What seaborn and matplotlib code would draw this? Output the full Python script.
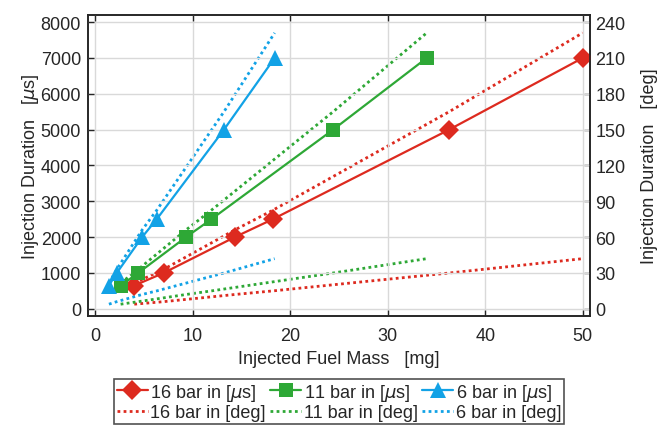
import pandas as pd
import seaborn as sns
import matplotlib.pyplot as plt

# Injected fuel mass [mg] per pressure level
mass_16 = [4.0, 7.0, 14.3, 18.2, 36.3, 50.0]
mass_11 = [2.6, 4.4, 9.3, 11.9, 24.4, 34.0]
mass_6 = [1.4, 2.2, 4.8, 6.3, 13.2, 18.4]

# Injection duration in microseconds
dur_us = [650, 1000, 2000, 2500, 5000, 7000]

# Injection duration in degrees (two dotted lines per pressure)
deg_high = [21.5, 33, 66, 82.5, 165, 231]
deg_low = [3.9, 6, 12, 15, 30, 42]

x_ticks = [0, 10, 20, 30, 40, 50]
y_ticks = [0, 1000, 2000, 3000, 4000, 5000, 6000, 7000, 8000]
y2_ticks = [0, 30, 60, 90, 120, 150, 180, 210, 240]

red = "#dd2a1f"
green = "#2ea836"
blue = "#12a2e6"
frame = "#262626"
fs = 13

sns.set_theme(style="whitegrid")
plt.rcParams["font.family"] = ["Liberation Sans", "DejaVu Sans"]
plt.rcParams["mathtext.fontset"] = "dejavusans"

fig = plt.figure(figsize=(6.7, 4.27), dpi=100)
ax = fig.add_axes([0.1313, 0.2576, 0.7493, 0.705])
ax2 = ax.twinx()

series = [
    (mass_16, red, "D", 10, "16"),
    (mass_11, green, "s", 10, "11"),
    (mass_6, blue, "^", 12, "6"),
]

handles = []
for mass, col, mk, ms, bar in series:
    df = pd.DataFrame({"mass": mass, "us": dur_us, "hi": deg_high, "lo": deg_low})
    sns.lineplot(data=df, x="mass", y="us", ax=ax, color=col, marker=mk,
                 markersize=ms, markeredgewidth=0, lw=1.6,
                 label=bar + r" bar in [$\mu$s]", legend=False)
    sns.lineplot(data=df, x="mass", y="hi", ax=ax2, color=col, lw=2,
                 linestyle=(0, (1, 1.2)), label=bar + " bar in [deg]", legend=False)
    sns.lineplot(data=df, x="mass", y="lo", ax=ax2, color=col, lw=2,
                 linestyle=(0, (1, 1.2)), legend=False)
    handles.append(ax.lines[-1])
    handles.append(ax2.lines[-2])

ax.set_xlim(-0.75, 50.75)
ax.set_ylim(-200, 8200)
ax2.set_ylim(-6, 246)
ax.set_xticks(x_ticks)
ax.set_yticks(y_ticks)
ax2.set_yticks(y2_ticks)
ax2.grid(False)
ax.set_zorder(ax2.get_zorder() + 1)
ax.patch.set_visible(False)
ax2.patch.set_visible(True)
ax2.patch.set_facecolor("white")

ax.grid(True, color="#d9d9d9", lw=1)
for a in (ax, ax2):
    for sp in a.spines.values():
        sp.set_color(frame)
        sp.set_linewidth(1.2)
    a.tick_params(direction="in", length=4, width=1, colors=frame, labelsize=fs,
                  labelcolor="#262626")
ax.tick_params(axis="x", top=True, bottom=True, pad=8)
ax.tick_params(axis="y", left=True, pad=5)
ax2.tick_params(right=True, pad=4)

ax.set_xlabel("Injected Fuel Mass   [mg]", fontsize=fs, color="#262626", labelpad=4)
ax.set_ylabel(r"Injection Duration   [$\mu$s]", fontsize=fs, color="#262626", labelpad=0)
ax2.set_ylabel("Injection Duration   [deg]", fontsize=fs, color="#262626", labelpad=11)

leg = fig.legend(handles=handles, loc="lower center", bbox_to_anchor=(0.506, 0.0),
                 ncol=3, fontsize=fs, frameon=True, fancybox=False,
                 handlelength=1.7, handletextpad=0.15, columnspacing=0.25,
                 labelspacing=0.1, borderpad=0.15, borderaxespad=0.1)
leg.get_frame().set_edgecolor(frame)
leg.get_frame().set_linewidth(1.2)

fig.savefig("out.png", dpi=100)
